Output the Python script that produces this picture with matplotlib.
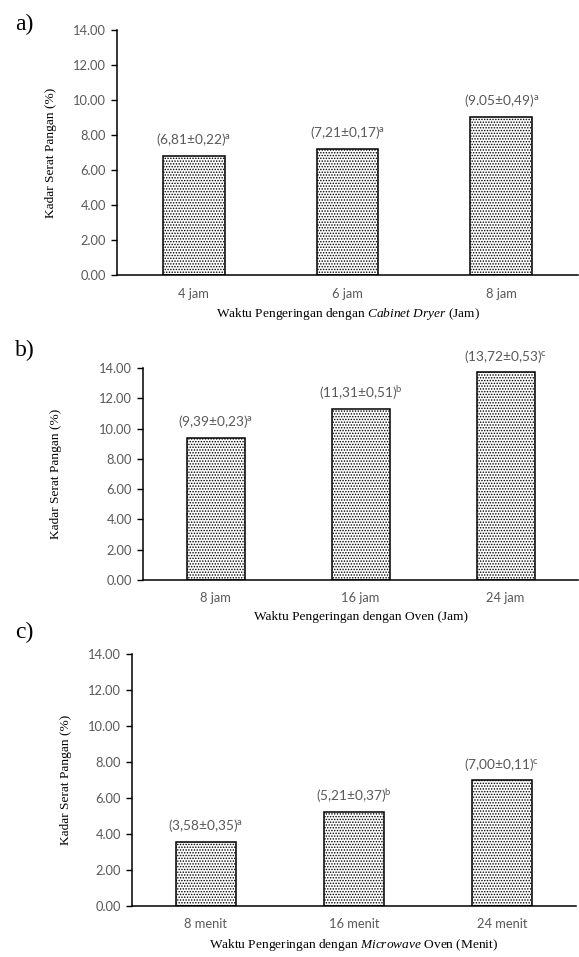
"""
Three bar charts of dietary fibre content (Kadar Serat Pangan) against drying time
for cabinet dryer, oven and microwave oven.
"""
import matplotlib
matplotlib.use('Agg')
import matplotlib.pyplot as plt
import matplotlib.transforms as mtransforms

# panel a) cabinet dryer
cat_a = ['4 jam', '6 jam', '8 jam']
val_a = [6.81, 7.21, 9.05]
lab_a = ['(6,81±0,22)', '(7,21±0,17)', '(9.05±0,49)']
sig_a = ['a', 'a', 'a']

# panel b) oven
cat_b = ['8 jam', '16 jam', '24 jam']
val_b = [9.39, 11.31, 13.72]
lab_b = ['(9,39±0,23)', '(11,31±0,51)', '(13,72±0,53)']
sig_b = ['a', 'b', 'c']

# panel c) microwave oven
cat_c = ['8 menit', '16 menit', '24 menit']
val_c = [3.58, 5.21, 7.00]
lab_c = ['(3,58±0,35)', '(5,21±0,37)', '(7,00±0,11)']
sig_c = ['a', 'b', 'c']

yticks = [0, 2, 4, 6, 8, 10, 12, 14]

plt.rcParams['mathtext.fontset'] = 'custom'
plt.rcParams['mathtext.rm'] = 'Lato'
plt.rcParams['mathtext.it'] = 'Liberation Serif:italic'
plt.rcParams['hatch.linewidth'] = 0.7
plt.rcParams['hatch.color'] = '#222222'

GRAY = '#595959'


def bar_panel(fig, rect, cats, vals, labs, sigs, xlabel, letter, ylab_x):
    ax = fig.add_axes(rect)
    x = range(len(cats))
    ax.bar(x, vals, width=0.4, color='white', edgecolor='black',
           linewidth=1.1, hatch='......')
    for xi, v, lab, s in zip(x, vals, labs, sigs):
        ax.annotate(lab + '$^{\\mathrm{' + s + '}}$', (xi, v),
                    xytext=(0, 11.5), textcoords='offset points',
                    ha='center', va='center', fontsize=9.8,
                    family='Lato', color=GRAY)
    ax.set_xlim(-0.5, 2.5)
    ax.set_ylim(0, 14)
    ax.set_yticks(yticks)
    ax.set_yticklabels(['%.2f' % t for t in yticks], family='Lato',
                       fontsize=9.3, color=GRAY)
    ax.set_xticks(list(x))
    ax.set_xticklabels(cats, family='Lato', fontsize=9.3, color=GRAY)
    ax.tick_params(axis='x', length=0, pad=9)
    ax.tick_params(axis='y', length=4, width=1, direction='out', pad=4)
    for side in ['top', 'right']:
        ax.spines[side].set_visible(False)
    ax.spines['left'].set_linewidth(1.1)
    ax.spines['bottom'].set_linewidth(1.1)
    ax.set_xlabel(xlabel, family='Liberation Serif', fontsize=9.6, labelpad=5)
    ax.set_ylabel('Kadar Serat Pangan (%)', family='Liberation Serif',
                  fontsize=9.6)
    trans = mtransforms.blended_transform_factory(fig.transFigure, ax.transAxes)
    ax.yaxis.set_label_coords(ylab_x, 0.5, transform=trans)
    fig.text(15 / 579, letter[1], letter[0], family='Liberation Serif',
             fontsize=17, va='center', ha='left')
    return ax


fig = plt.figure(figsize=(5.79, 9.57), dpi=100)

bar_panel(fig, [117 / 579, 1 - 275 / 957, 461 / 579, 245 / 957],
          cat_a, val_a, lab_a, sig_a,
          'Waktu Pengeringan dengan $\\mathit{Cabinet\\ Dryer}$ (Jam)',
          ('a)', 1 - 24 / 957), 57 / 579)
bar_panel(fig, [143 / 579, 1 - 580 / 957, 435 / 579, 212 / 957],
          cat_b, val_b, lab_b, sig_b,
          'Waktu Pengeringan dengan Oven (Jam)',
          ('b)', 1 - 350 / 957), 62 / 579)
bar_panel(fig, [132 / 579, 1 - 906 / 957, 444 / 579, 252 / 957],
          cat_c, val_c, lab_c, sig_c,
          'Waktu Pengeringan dengan $\\mathit{Microwave}$ Oven (Menit)',
          ('c)', 1 - 632 / 957), 72 / 579)

fig.savefig('out.png', dpi=100)
